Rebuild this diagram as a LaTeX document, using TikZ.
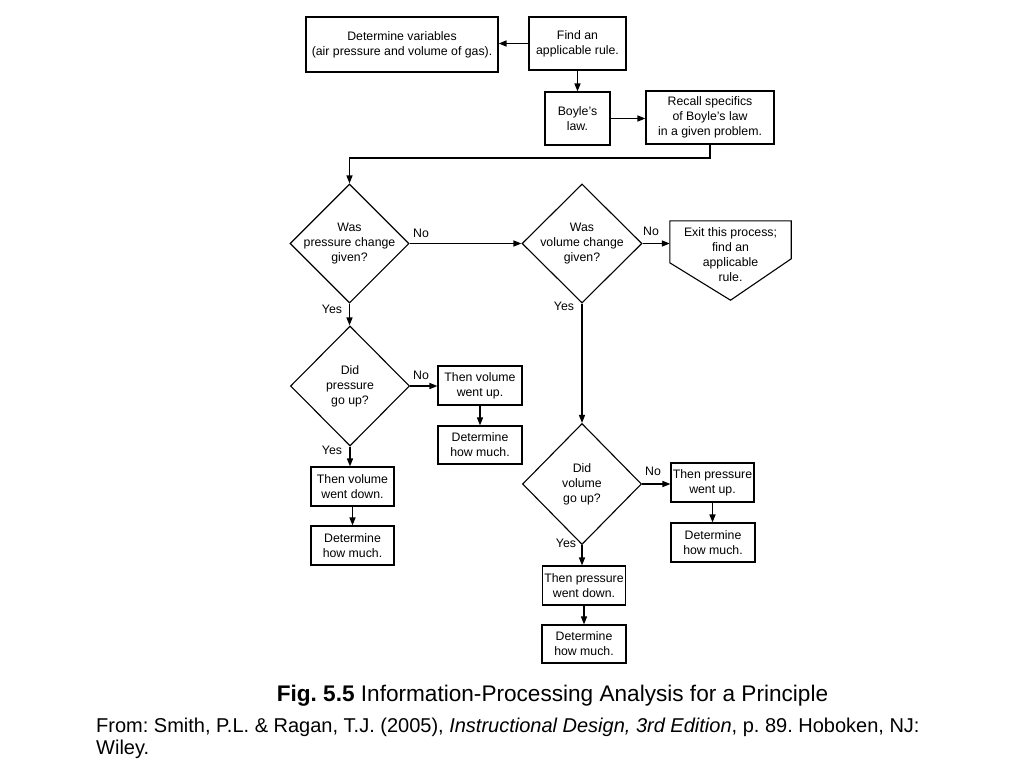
\documentclass[tikz,border=0pt]{standalone}
\usepackage{fontspec}
\setmainfont{Liberation Sans}
\usetikzlibrary{shapes.geometric,arrows.meta,calc}
\frenchspacing
\begin{document}
\begin{tikzpicture}[x=1pt,y=-1pt,
  every node/.style={font=\fontsize{12.3}{15}\selectfont},
  box/.style={draw,line width=1.1pt,inner sep=0pt,align=center},
  dia/.style={draw,diamond,line width=1.1pt,inner sep=0pt,minimum width=119pt,minimum height=119pt},
  dtext/.style={align=center},
  lab/.style={inner sep=0pt},
  arr/.style={line width=1.4pt,-{Triangle[length=8pt,width=6pt]}},
  ln/.style={line width=1.4pt}]
\useasboundingbox (0,0) rectangle (1024,768);
% top boxes
\node[box,minimum width=192pt,minimum height=55pt] (detvar) at (402,44.5) {Determine variables\\(air pressure and volume of gas).};
\node[box,minimum width=97pt,minimum height=53pt] (find) at (577.5,43.5) {Find an\\applicable rule.};
\node[box,minimum width=65pt,minimum height=53pt] (boyle) at (577.5,118.5) {Boyle's\\law.};
\node[box,minimum width=128pt,minimum height=53pt] (recall) at (710,117.5) {Recall specifics\\of Boyle's law\\in a given problem.};
% diamonds
\node[dia] (d1) at (349.5,243.5) {};
\node[dtext] (t1) at (349.5,243.5) {Was\\pressure change\\given?};
\node[dia,minimum width=120pt] (d2) at (582,243.5) {};
\node[dtext] (t2) at (582,243.5) {Was\\volume change\\given?};
\node[dia,minimum height=120pt] (d3) at (350,386) {};
\node[dtext] (t3) at (350,386) {Did\\pressure\\go up?};
\node[dia,minimum height=121pt] (d4) at (582,484) {};
\node[dtext] (t4) at (582,484) {Did\\volume\\go up?};
% exit
\node[minimum width=121pt,minimum height=79pt,inner sep=0pt] (exit) at (730.5,260.5) {};
\draw[line width=1.1pt] (exit.north west) -- (exit.north east) -- ++(0,38) -- (exit.south) -- ($(exit.north west)+(0,42)$) -- cycle;
\node[dtext] (texit) at (730.5,255) {Exit this process;\\find an\\applicable\\rule.};
% left branch
\node[box,minimum width=84pt,minimum height=39pt] (vup) at (480,385.5) {Then volume\\went up.};
\node[box,minimum width=84pt,minimum height=38pt] (hm1) at (480,445) {Determine\\how much.};
\node[box,minimum width=83pt,minimum height=39pt] (vdown) at (352.5,486.5) {Then volume\\went down.};
\node[box,minimum width=83pt,minimum height=39pt] (hm2) at (352.5,545.5) {Determine\\how much.};
% right branch
\node[box,minimum width=83pt,minimum height=39pt] (pup) at (712.5,482.5) {Then pressure\\went up.};
\node[box,minimum width=84pt,minimum height=39pt] (hm3) at (713,542.5) {Determine\\how much.};
\node[box,minimum width=83pt,minimum height=39pt] (pdown) at (584,585.5) {Then pressure\\went down.};
\node[box,minimum width=84pt,minimum height=38pt] (hm4) at (584,644) {Determine\\how much.};
% connectors
\draw[arr] (find.west) -- (detvar.east |- find.west);
\draw[arr] (find.south) -- (boyle.north);
\draw[arr] (boyle.east) -- (recall.west |- boyle.east);
\coordinate (c1) at (710,158);
\draw[arr] (recall.south) -- (c1) -- (c1 -| d1.north) -- (d1.north);
\draw[arr] (d1.east) -- (d2.west);
\draw[arr] (d2.east) -- (exit.west |- d2.east);
\draw[arr] (d1.south) -- (d3.north -| d1.south);
\draw[arr] (d2.south) -- (d4.north);
\draw[arr] (d3.east) -- (vup.west |- d3.east);
\draw[arr] (vup.south) -- (hm1.north);
\draw[arr] (d3.south) -- (vdown.north -| d3.south);
\draw[arr] (vdown.south) -- (hm2.north);
\draw[arr] (d4.east) -- (pup.west |- d4.east);
\draw[arr] (pup.south) -- (hm3.north -| pup.south);
\draw[arr] (d4.south) -- (pdown.north -| d4.south);
\draw[arr] (pdown.south) -- (hm4.north);
% labels
\node[lab] (no1) at (421,233) {No};
\node[lab] (no2) at (651,231) {No};
\node[lab] (no3) at (421,375) {No};
\node[lab] (no4) at (653,471) {No};
\node[lab] (yes1) at (332,309) {Yes};
\node[lab] (yes2) at (564,306) {Yes};
\node[lab] (yes3) at (332,450) {Yes};
\node[lab] (yes4) at (566,543) {Yes};
% caption
\node[inner sep=0pt,anchor=base,font=\fontsize{22.6}{26}\selectfont] (cap) at (552.5,701) {\textbf{Fig. 5.5} Information-Processing Analysis for a Principle};
\node[inner sep=0pt,anchor=base west,font=\fontsize{20}{22}\selectfont] (src1) at (96,732) {From: Smith, P.L. \& Ragan, T.J. (2005), \textit{Instructional Design, 3rd Edition}, p. 89. Hoboken, NJ:};
\node[inner sep=0pt,anchor=base west,font=\fontsize{20}{22}\selectfont] (src2) at (96,754) {Wiley.};
\end{tikzpicture}
\end{document}
